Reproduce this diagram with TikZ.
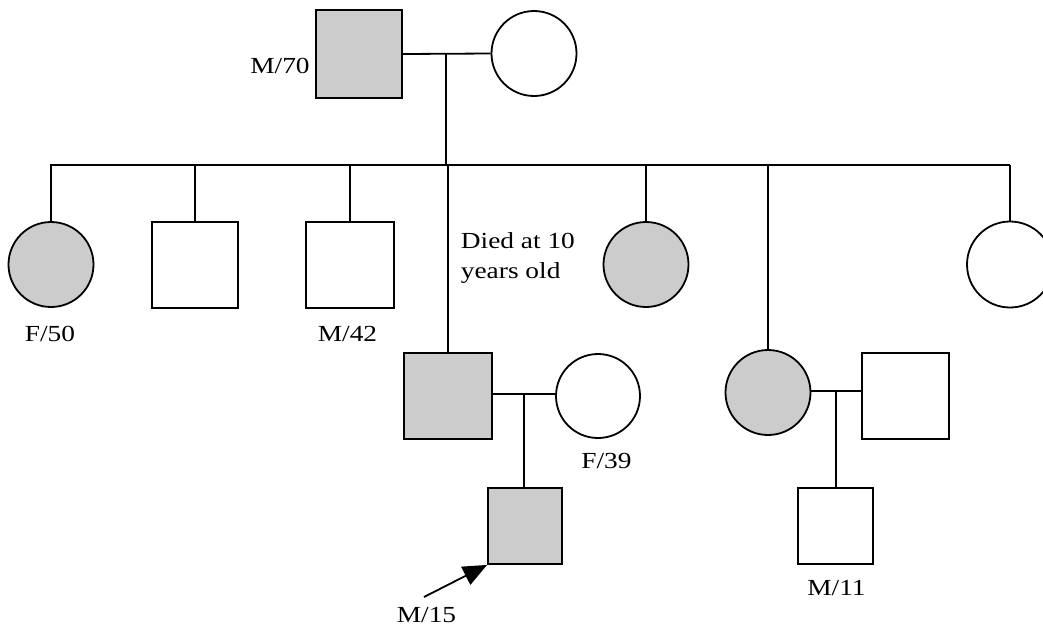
\documentclass[tikz,border=0pt]{standalone}
\usepackage{fontspec}
\setmainfont{Liberation Serif}[FakeStretch=1.19]
\usetikzlibrary{arrows.meta}
\definecolor{aff}{HTML}{CCCCCC}
\tikzset{
  every picture/.style={line width=1.8pt},
  male/.style={draw=black, rectangle, minimum width=86pt, minimum height=86pt, inner sep=0pt},
  female/.style={draw=black, circle, minimum size=85pt, inner sep=0pt},
  affected/.style={fill=aff},
  lbl/.style={inner sep=0pt, anchor=base, font=\fontsize{23}{27}\selectfont},
  lline/.style={line width=1.8pt},
}
\begin{document}
\begin{tikzpicture}[x=1pt,y=-1pt]
\clip (0,0) rectangle (1043,625);
\fill[white] (0,0) rectangle (1043,625);
% generation I
\node[male, affected, minimum height=88pt] (gf) at (359,54) {};
\node[female] (gm) at (534,53.5) {};
\coordinate (m1) at (446,53);
\coordinate (sibL) at (50,165);
\coordinate (sibR) at (1010,165);
\draw[lline] (gf.east) -- (gm.west);
\draw[lline] (m1) -- (m1 |- sibL);
\draw[lline] (sibL) -- (sibR);
% generation II
\node[female, affected] (c1) at (51,264.5) {};
\node[male] (c2) at (195,265) {};
\node[male, minimum width=88pt] (c3) at (350,265) {};
\node[male, affected, minimum width=88pt] (son) at (448,396) {};
\node[female, affected] (c5) at (646,264.5) {};
\node[female, affected] (dau) at (768,392.5) {};
\node[female, minimum size=86pt] (c7) at (1010,264.5) {};
\foreach \n in {c1,c2,c3,son,c5,dau,c7}
  \draw[lline] (\n |- sibL) -- (\n.north);
% spouses
\node[female, minimum size=84pt] (sw) at (598,396) {};
\node[male, minimum width=87pt] (dh) at (905.5,396) {};
\coordinate (m2) at (524,394);
\coordinate (m3) at (836,391);
\draw[lline] (son.east |- m2) -- (sw.west |- m2);
\draw[lline] (dau.east |- m3) -- (dh.west |- m3);
% generation III
\node[male, affected, minimum width=74pt, minimum height=76pt] (gs) at (525,526) {};
\node[male, minimum width=75pt, minimum height=76pt] (gc) at (835.5,526) {};
\draw[lline] (m2) -- (m2 |- gs.north);
\draw[lline] (m3) -- (m3 |- gc.north);
% labels
\node[lbl] (lgf) at (280,73) {M/70};
\node[lbl] (lc1) at (50,341) {F/50};
\node[lbl] (lc3) at (347.5,341) {M/42};
\node[lbl, anchor=base west] (ld1) at (460,248) {Died at 10};
\node[lbl, anchor=base west] (ld2) at (460,278) {years old};
\node[lbl] (lsw) at (606.5,468) {F/39};
\node[lbl] (lgs) at (426.5,622) {M/15};
\node[lbl] (lgc) at (836.5,595) {M/11};
% proband arrow
\coordinate (a0) at (424,597);
\draw[lline, -{Triangle[length=24pt,width=20pt]}] (a0) -- (gs.south west);
\end{tikzpicture}
\end{document}
